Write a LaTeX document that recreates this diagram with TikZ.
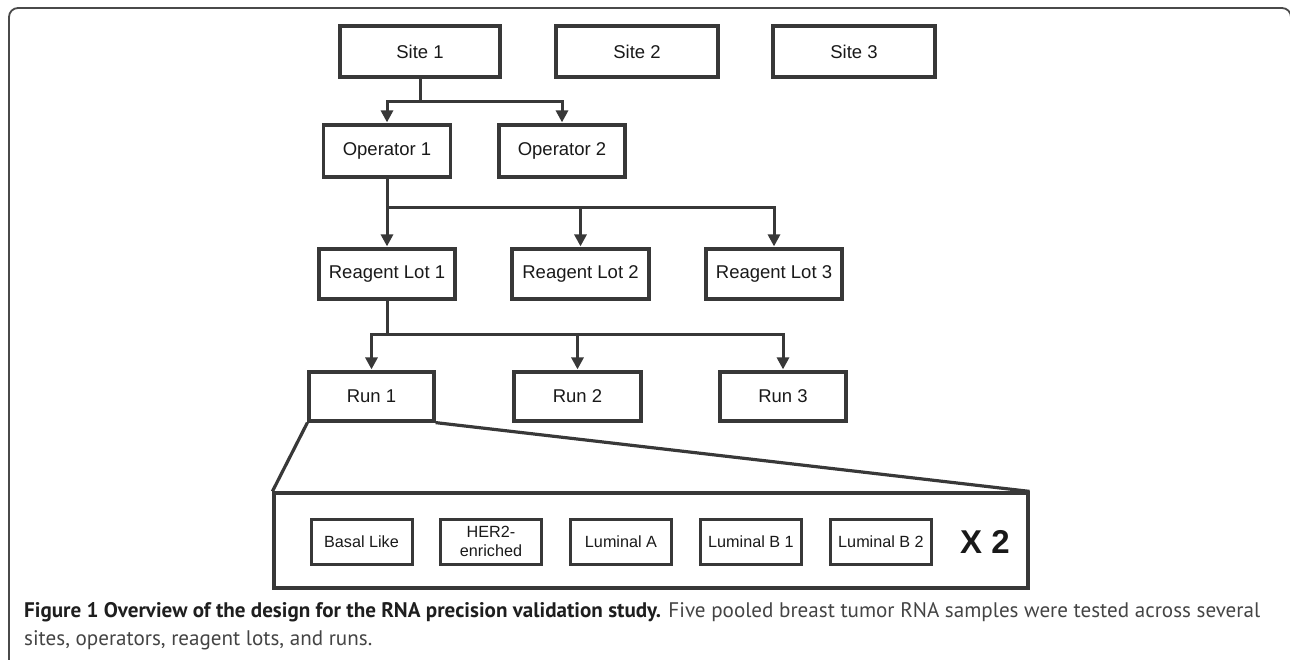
\documentclass[tikz,border=0pt]{standalone}
\usepackage{fontspec}
\setmainfont{Liberation Sans}
\newfontfamily\capfont{PT Sans}
\usetikzlibrary{arrows.meta}
\definecolor{ink}{HTML}{383838}
\definecolor{frame}{HTML}{4A4A4A}
\definecolor{capreg}{HTML}{444444}
\definecolor{capbold}{HTML}{1E1E1E}
\newlength\capw
\newcommand{\capone}{{\bfseries\color{capbold}Figure 1 Overview of the design for the RNA precision validation study.} Five pooled breast tumor RNA samples were tested across several}
\AtBeginDocument{%
  \settowidth\capw{\capfont\fontsize{17}{20}\selectfont\capone}%
  \pgfmathsetmacro\capsize{1236/\capw*17}%
  \global\let\capsize\capsize}
\begin{document}
\begin{tikzpicture}[x=1pt,y=-1pt,
  box/.style={draw=ink, line width=3.2pt, inner sep=0pt, text=black!90,
              font=\fontsize{18.5}{22}\selectfont},
  sbox/.style={draw=ink, line width=3pt, minimum width=101pt, minimum height=45pt,
               inner sep=0pt, align=center, text=black!90,
               font=\fontsize{16.2}{19}\selectfont},
  conn/.style={draw=ink, line width=3pt},
  arr/.style={conn, -{Triangle[length=12pt,width=12pt]}, shorten >=1pt},
  captext/.style={anchor=base west, inner sep=0pt, text=capreg}
]
\useasboundingbox (0,0) rectangle (1290,659);
% outer frame
\draw[frame, line width=1.8pt, rounded corners=9pt] (9,700) -- (9,8) -- (1291,8) -- (1291,700);

% sites
\node[box, minimum width=160pt, minimum height=51pt] (s1) at (420,51.5) {Site 1};
\node[box, minimum width=162pt, minimum height=51pt] (s2) at (637,51.5) {Site 2};
\node[box, minimum width=162pt, minimum height=51pt] (s3) at (854,51.5) {Site 3};

% operators
\node[box, minimum width=127pt, minimum height=52pt] (o1) at (387,151) {Operator 1};
\node[box, minimum width=126pt, minimum height=52pt] (o2) at (562,151) {Operator 2};

% reagent lots
\node[box, minimum width=136pt, minimum height=50pt] (r1) at (387,274) {Reagent Lot 1};
\node[box, minimum width=137pt, minimum height=50pt] (r2) at (580.5,274) {Reagent Lot 2};
\node[box, minimum width=136pt, minimum height=50pt] (r3) at (774,274) {Reagent Lot 3};

% runs
\node[box, minimum width=125pt, minimum height=49pt] (u1) at (371.5,396.5) {Run 1};
\node[box, minimum width=127pt, minimum height=49pt] (u2) at (577.5,396.5) {Run 2};
\node[box, minimum width=126pt, minimum height=49pt] (u3) at (783,396.5) {Run 3};

% connectors
\coordinate (j1) at (420,101);
\draw[conn] (s1.south) -- (j1);
\draw[arr] (j1) -| (o1.north);
\draw[arr] (j1) -| (o2.north);

\coordinate (j2) at (387,207);
\draw[arr] (o1.south) -- (r1.north);
\draw[arr] (j2) -| (r2.north);
\draw[arr] (j2) -| (r3.north);

\coordinate (j3) at (387,334);
\draw[conn] (r1.south) -- (j3);
\draw[arr] (j3) -| (u1.north);
\draw[arr] (j3) -| (u2.north);
\draw[arr] (j3) -| (u3.north);

% expanded box
\node[draw=ink, line width=3.2pt, minimum width=754pt, minimum height=95pt, inner sep=0pt] (big) at (651,540.5) {};
\draw[ink, line width=3.2pt] (u1.south west) -- (big.north west);
\draw[ink, line width=3.2pt] (u1.south east) -- (big.north east);

\node[sbox] (b1) at (361.5,541.5) {Basal Like};
\node[sbox] (b2) at (491,541.5) {HER2-\\enriched};
\node[sbox] (b3) at (621,541.5) {Luminal A};
\node[sbox] (b4) at (751,541.5) {Luminal B 1};
\node[sbox] (b5) at (881,541.5) {Luminal B 2};
\node[inner sep=0pt, font=\bfseries\fontsize{33}{36}\selectfont, text=black!90] (x2) at (985,541.5) {X 2};

% caption
\node[captext, font=\capfont\fontsize{\capsize}{\capsize}\selectfont] (cap1) at (24,617) {\capone};
\node[captext, font=\capfont\fontsize{\capsize}{\capsize}\selectfont] (cap2) at (24,645) {sites, operators, reagent lots, and runs.};
\end{tikzpicture}
\end{document}
